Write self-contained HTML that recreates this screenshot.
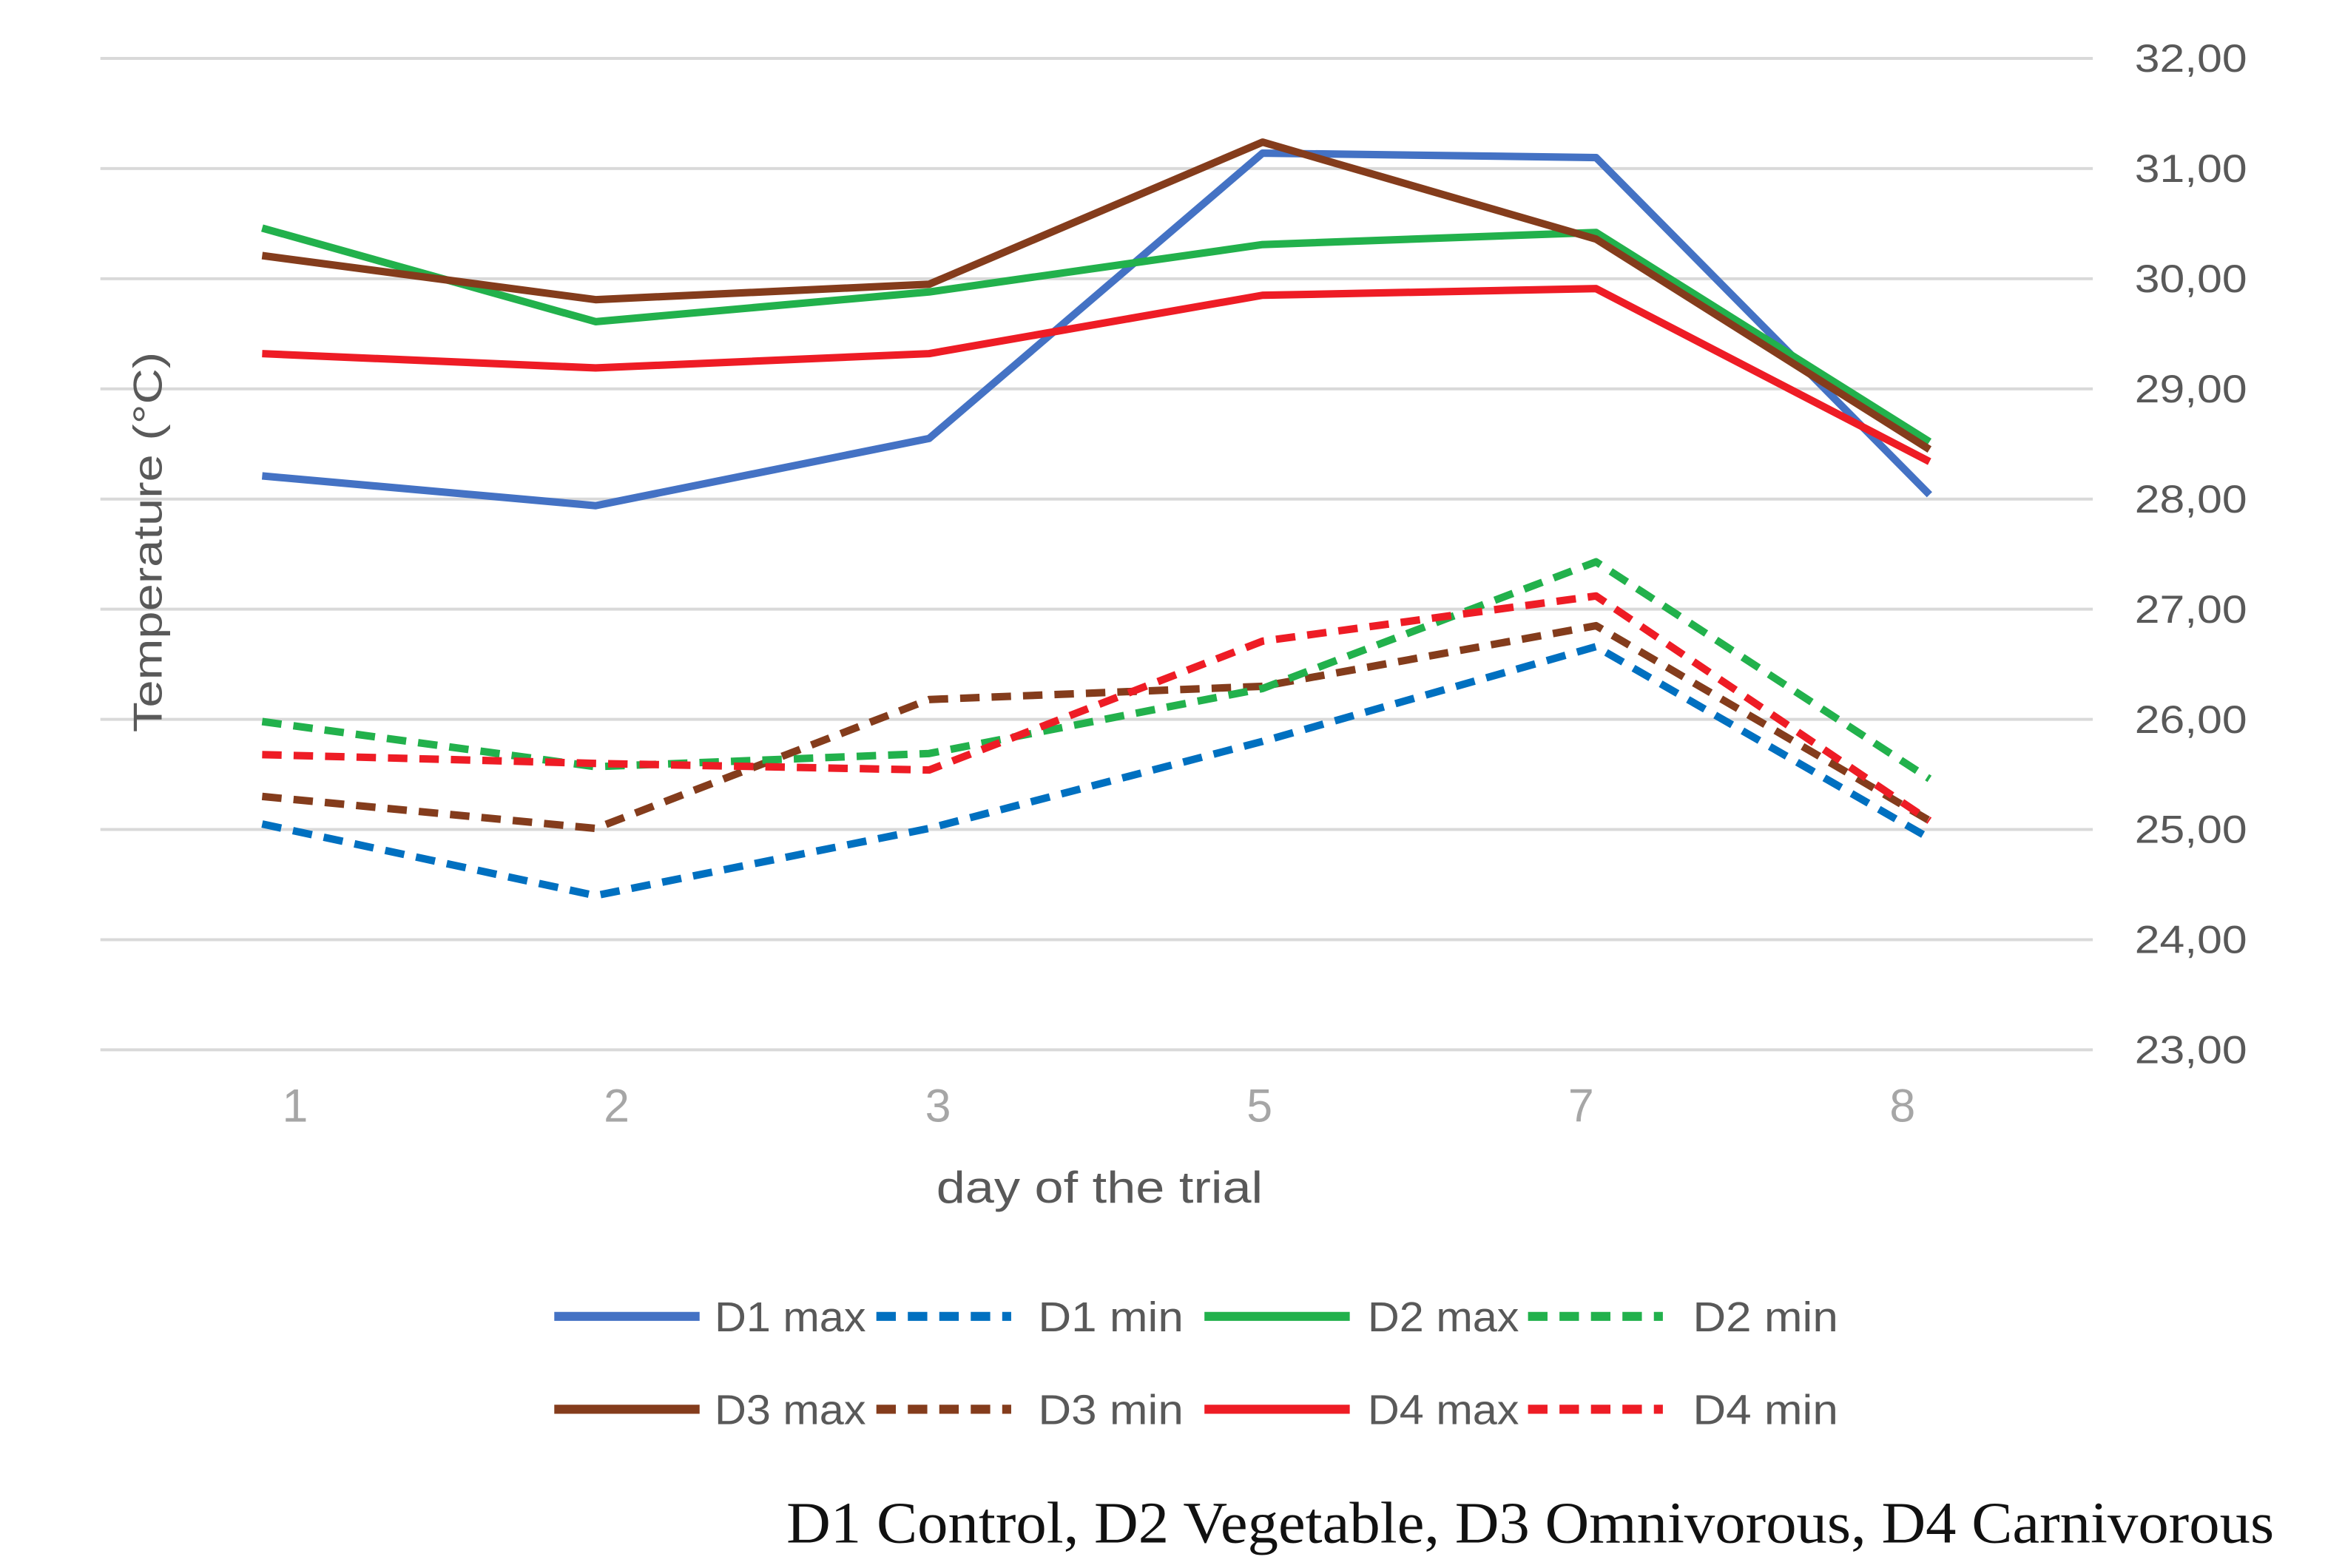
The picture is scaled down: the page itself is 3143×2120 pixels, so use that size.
<!DOCTYPE html>
<html><head><meta charset="utf-8"><style>
html,body{margin:0;padding:0;background:#fff;}
svg{display:block;}
</style></head><body>
<svg id="chart" width="3143" height="2120" viewBox="0 0 1552 1047" preserveAspectRatio="none" xmlns="http://www.w3.org/2000/svg">
<g id="grid"></g>
<g id="ylabels"></g>
<g id="xlabels"></g>
<g id="series"></g>
<text x="0" y="0" transform="translate(108,362) rotate(-90)" text-anchor="middle" textLength="254" lengthAdjust="spacingAndGlyphs" font-family="Liberation Sans, sans-serif" font-size="27" fill="#595959">Temperature (°C)</text>
<text x="734" y="803" text-anchor="middle" textLength="218" lengthAdjust="spacingAndGlyphs" font-family="Liberation Sans, sans-serif" font-size="30" fill="#595959">day of the trial</text>
<g id="legend"></g>
<text x="525" y="1030" textLength="993" lengthAdjust="spacingAndGlyphs" font-family="Liberation Serif, serif" font-size="39" fill="#111">D1 Control, D2 Vegetable, D3 Omnivorous, D4 Carnivorous</text>
</svg>
<script>
const categories = ["1","2","3","5","7","8"];
const yTicks = [23,24,25,26,27,28,29,30,31,32];
const yTickLabels = ["23,00","24,00","25,00","26,00","27,00","28,00","29,00","30,00","31,00","32,00"];
const seriesNames = ["D1 max","D1 min","D2 max","D2 min","D3 max","D3 min","D4 max","D4 min"];
const d1max = [28.21,27.94,28.55,31.14,31.10,28.04];
const d1min = [25.05,24.40,25.01,25.80,26.66,24.92];
const d2max = [30.46,29.61,29.88,30.31,30.42,28.52];
const d2min = [25.98,25.57,25.69,26.28,27.43,25.46];
const d3max = [30.21,29.81,29.95,31.24,30.36,28.45];
const d3min = [25.30,25.01,26.18,26.30,26.85,25.08];
const d4max = [29.32,29.19,29.32,29.85,29.91,28.34];
const d4min = [25.68,25.60,25.54,26.71,27.12,25.08];

const NS="http://www.w3.org/2000/svg";
const yMin=23,yMax=32,yTop=39,yBot=701;
function yScale(v){return yBot-(v-yMin)/(yMax-yMin)*(yBot-yTop);}
function xScale(i){return 175+i*222.6;}
function xLabelPos(i){return 197+i*214.6;}
function mk(tag,attrs,parent){const e=document.createElementNS(NS,tag);for(const k in attrs)e.setAttribute(k,attrs[k]);parent.appendChild(e);return e;}

const grid=document.getElementById('grid');
const yl=document.getElementById('ylabels');
yTicks.forEach((t,i)=>{
  const l=mk('line',{x1:67,x2:1397,y1:yScale(t),y2:yScale(t),stroke:'#d9d9d9','stroke-width':2},grid);
  
  
  const tx=mk('text',{x:1425,y:yScale(t)+9,textLength:75,lengthAdjust:'spacingAndGlyphs','font-family':'Liberation Sans, sans-serif','font-size':26,fill:'#595959'},yl);
  tx.textContent=yTickLabels[i];
  
  
});
const xl=document.getElementById('xlabels');
categories.forEach((c,i)=>{
  const tx=mk('text',{x:xLabelPos(i),y:749,'text-anchor':'middle','font-family':'Liberation Sans, sans-serif','font-size':31,fill:'#a6a6a6'},xl);
  tx.textContent=c;
  
  
});

const seriesData=[d1max,d1min,d2max,d2min,d3max,d3min,d4max,d4min];
const colors=['#4472c4','#0070c0','#22b14c','#22b14c','#843c1c','#843c1c','#ee1c25','#ee1c25'];
const sg=document.getElementById('series');
const order=[1,5,3,7,0,2,6,4];
order.forEach(k=>{
  const vals=seriesData[k];
  const pts=vals.map((v,i)=>xScale(i)+','+yScale(v)).join(' ');
  const dashed=k%2===1;
  const p=mk('polyline',{points:pts,fill:'none',stroke:colors[k],'stroke-width':5,'stroke-linejoin':'round'},sg);
  if(dashed){p.setAttribute('stroke-dasharray','13 8');}
  
  
});

const lg=document.getElementById('legend');
const lx=[370,585,804,1020];
const tx0=[477,693,913,1130];
seriesNames.forEach((n,k)=>{
  const row=Math.floor(k/4),col=k%4;
  const y=row===0?879:941;
  const w=col%2===0?97:90;
  const ln=mk('line',{x1:lx[col],x2:lx[col]+w,y1:y,y2:y,stroke:colors[k],'stroke-width':6},lg);
  if(k%2===1)ln.setAttribute('stroke-dasharray','13 8');
  
  
  const t=mk('text',{x:tx0[col],y:y+10,textLength:(col%2===0?101:97),lengthAdjust:'spacingAndGlyphs','font-family':'Liberation Sans, sans-serif','font-size':28,fill:'#595959'},lg);
  t.textContent=n;
  
  
});
</script>
</body></html>
